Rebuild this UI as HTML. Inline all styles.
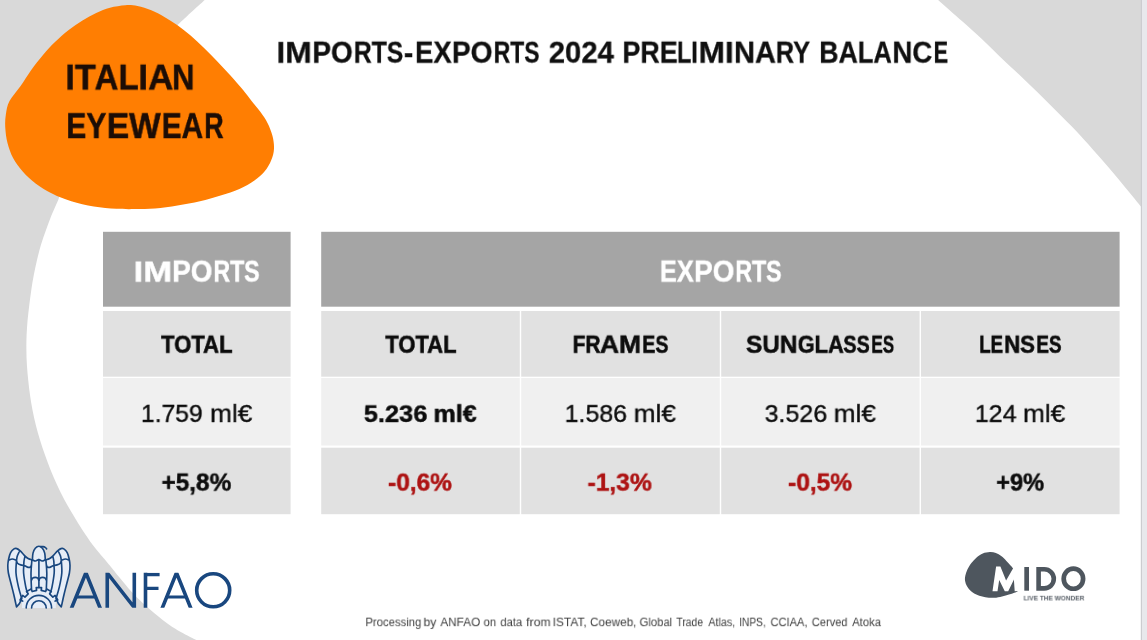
<!DOCTYPE html>
<html lang="en"><head><meta charset="utf-8"><title>Imports-Exports 2024 Preliminary Balance</title>
<style>
html,body{margin:0;padding:0;background:#fff;}
body{width:1147px;height:640px;position:relative;overflow:hidden;font-family:"Liberation Sans",sans-serif;}
.bg{position:absolute;left:0;top:0;}
.ln,.w{margin:0;padding:0;font:inherit;}
.t{position:absolute;white-space:nowrap;line-height:1;transform-origin:0 0;margin:0;padding:0;will-change:transform;}
</style></head>
<body>
<svg class="bg" width="1147" height="640" viewBox="0 0 1147 640">
<path d="M204.7 0.0 C200.3 4.1 185.8 17.1 178.1 24.6 C170.4 32.1 164.7 38.3 158.5 45.0 C152.2 51.7 146.4 58.3 140.7 65.0 C135.1 71.7 129.7 78.3 124.5 85.0 C119.3 91.7 114.4 98.3 109.7 105.0 C105.0 111.7 100.5 118.3 96.2 125.0 C92.0 131.7 87.9 138.3 84.1 145.0 C80.2 151.7 76.6 158.3 73.2 165.0 C69.7 171.7 65.9 179.2 63.4 185.0 C60.9 190.8 60.2 195.0 58.2 200.0 C56.2 205.0 53.6 210.0 51.6 215.0 C49.6 220.0 47.8 225.0 46.0 230.0 C44.2 235.0 42.4 240.0 40.9 245.0 C39.4 250.0 38.2 255.0 37.0 260.0 C35.8 265.0 34.8 270.0 33.8 275.0 C32.8 280.0 32.0 285.0 31.3 290.0 C30.6 295.0 29.9 300.0 29.3 305.0 C28.7 310.0 28.1 315.0 27.6 320.0 C27.2 325.0 26.8 330.0 26.6 335.0 C26.4 340.0 26.3 345.0 26.4 350.0 C26.4 355.0 26.6 360.0 26.9 365.0 C27.2 370.0 27.7 375.0 28.2 380.0 C28.7 385.0 29.3 390.0 30.0 395.0 C30.7 400.0 31.5 405.0 32.5 410.0 C33.5 415.0 34.5 420.0 35.8 425.0 C37.0 430.0 38.5 435.0 40.0 440.0 C41.5 445.0 43.2 450.0 45.0 455.0 C46.8 460.0 48.6 465.0 50.6 470.0 C52.6 475.0 54.8 480.0 57.1 485.0 C59.4 490.0 61.8 495.0 64.5 500.0 C67.2 505.0 70.2 510.0 73.2 515.0 C76.2 520.0 79.1 525.0 82.4 530.0 C85.7 535.0 89.3 540.3 92.8 545.0 C96.3 549.7 100.7 554.7 103.5 558.0 C106.3 561.3 106.7 561.8 109.4 565.0 C112.1 568.2 115.8 573.1 119.5 577.5 C123.2 581.9 127.5 587.4 131.3 591.6 C135.1 595.8 138.3 598.9 142.2 602.5 C146.1 606.1 150.3 609.8 154.7 613.4 C159.1 617.0 164.4 621.3 168.8 624.4 C173.2 627.5 176.7 629.6 181.3 632.2 C185.9 634.8 194.0 638.7 196.5 640.0 L0 640 L0 0 Z" fill="#d9d9d9"/>
<path d="M938.1 0.0 C942.2 3.6 955.3 15.2 962.5 21.6 C969.7 28.0 975.0 32.6 981.3 38.5 C987.5 44.4 993.8 50.8 1000.0 56.8 C1006.2 62.8 1012.5 68.4 1018.8 74.3 C1025.0 80.2 1031.2 86.1 1037.5 92.2 C1043.8 98.3 1049.8 104.5 1056.3 111.0 C1062.8 117.5 1070.3 124.9 1076.4 131.3 C1082.5 137.7 1087.3 143.2 1092.8 149.4 C1098.3 155.6 1103.8 161.9 1109.3 168.3 C1114.8 174.7 1120.3 181.5 1125.7 188.0 C1131.1 194.5 1138.9 204.0 1141.5 207.2 L1141.5 0 Z" fill="#d9d9d9"/>
<rect x="1141.5" y="0" width="5.5" height="640" fill="#e8e8ec"/>
<rect x="1140.8" y="0" width="1.2" height="640" fill="#ccccd0"/>
<path d="M125.4 5.2 C130.0 4.9 133.2 5.2 137.5 6.0 C141.8 6.8 146.8 8.5 151.3 10.3 C155.8 12.1 160.0 14.4 164.4 16.9 C168.8 19.4 173.1 22.2 177.5 25.3 C181.9 28.4 186.2 31.9 190.6 35.6 C195.0 39.4 199.4 43.6 203.8 47.8 C208.2 52.0 212.5 56.4 216.9 60.9 C221.3 65.4 225.6 70.2 230.0 75.0 C234.4 79.8 239.4 85.6 243.1 90.0 C246.8 94.4 249.1 97.8 252.0 101.5 C254.9 105.2 257.9 108.4 260.5 112.0 C263.1 115.6 265.5 119.0 267.5 123.0 C269.5 127.0 271.4 131.7 272.5 136.0 C273.6 140.3 274.2 144.8 274.0 148.8 C273.8 152.8 272.9 156.2 271.3 160.0 C269.8 163.8 267.5 167.9 264.7 171.3 C261.9 174.7 258.6 177.6 254.4 180.6 C250.2 183.6 245.0 186.6 239.4 189.1 C233.8 191.6 227.2 193.6 220.6 195.6 C214.0 197.6 207.2 199.7 200.0 201.3 C192.8 202.9 185.0 204.2 177.5 205.4 C170.0 206.6 162.1 207.8 155.0 208.4 C147.9 209.0 141.4 209.0 135.0 209.1 C128.6 209.2 123.2 209.2 116.3 208.8 C109.4 208.4 101.3 207.8 93.8 206.5 C86.3 205.2 78.2 203.4 71.3 201.3 C64.4 199.2 58.5 196.8 52.5 193.8 C46.5 190.8 40.6 187.2 35.6 183.4 C30.6 179.7 26.2 175.5 22.5 171.3 C18.8 167.1 15.6 162.8 13.1 158.1 C10.6 153.4 8.8 148.1 7.5 143.1 C6.2 138.1 5.6 132.8 5.3 128.1 C5.0 123.4 5.1 119.5 5.8 115.0 C6.5 110.5 7.0 105.8 9.5 101.0 C12.0 96.2 17.0 91.0 20.6 85.9 C24.2 80.8 27.2 75.6 30.9 70.4 C34.6 65.2 39.0 59.7 43.0 55.0 C47.0 50.3 50.7 46.2 55.0 42.1 C59.3 38.0 64.1 33.7 68.7 30.1 C73.3 26.5 77.9 23.5 82.5 20.6 C87.1 17.7 91.6 15.1 96.2 12.9 C100.8 10.8 105.1 9.0 110.0 7.7 C114.9 6.4 120.8 5.5 125.4 5.2Z" fill="#ff7e02"/>
</svg>
<svg class="bg" width="1147" height="640" viewBox="0 0 1147 640"><rect x="103.0" y="231.8" width="187.6" height="74.9" fill="#a5a5a5"/>
<rect x="103.0" y="311.0" width="187.6" height="65.7" fill="#e1e1e1"/>
<rect x="103.0" y="378.0" width="187.6" height="67.5" fill="#f0f0f0"/>
<rect x="103.0" y="447.7" width="187.6" height="66.5" fill="#e1e1e1"/>
<rect x="321.2" y="231.8" width="798.4" height="74.9" fill="#a5a5a5"/>
<rect x="321.2" y="311.0" width="198.6" height="65.7" fill="#e1e1e1"/>
<rect x="521.2" y="311.0" width="198.6" height="65.7" fill="#e1e1e1"/>
<rect x="721.2" y="311.0" width="198.4" height="65.7" fill="#e1e1e1"/>
<rect x="921.0" y="311.0" width="198.6" height="65.7" fill="#e1e1e1"/>
<rect x="321.2" y="378.0" width="198.6" height="67.5" fill="#f0f0f0"/>
<rect x="521.2" y="378.0" width="198.6" height="67.5" fill="#f0f0f0"/>
<rect x="721.2" y="378.0" width="198.4" height="67.5" fill="#f0f0f0"/>
<rect x="921.0" y="378.0" width="198.6" height="67.5" fill="#f0f0f0"/>
<rect x="321.2" y="447.7" width="198.6" height="66.5" fill="#e1e1e1"/>
<rect x="521.2" y="447.7" width="198.6" height="66.5" fill="#e1e1e1"/>
<rect x="721.2" y="447.7" width="198.4" height="66.5" fill="#e1e1e1"/>
<rect x="921.0" y="447.7" width="198.6" height="66.5" fill="#e1e1e1"/></svg>
<svg class="bg" width="1147" height="640" viewBox="0 0 1147 640"><defs><clipPath id="cl"><rect x="60" y="572.8" width="140" height="34.90000000000009"/></clipPath></defs><g fill="none" stroke="#19477f" stroke-width="3.6" stroke-linejoin="miter" stroke-miterlimit="20" clip-path="url(#cl)"><path d="M70.48 610.7 L85.9 572.8 L101.21 610.7"/><path stroke-width="3" d="M75.7 597 L96.0 597"/><path d="M107.25 610.7 L107.25 573.0 L134.3 607.5 L134.3 569.8"/><path d="M145.5 610.7 L145.5 569.8"/><path stroke-width="3.5" d="M145.5 574.55 L159.6 574.55"/><path stroke-width="3.2" d="M145.5 588.3 L158.5 588.3"/><path d="M161.19 610.7 L176.5 572.8 L191.81 610.7"/><path stroke-width="3" d="M166.4 597 L186.6 597"/></g><circle cx="213.2" cy="590.3" r="16.5" fill="none" stroke="#19477f" stroke-width="3.6"/><g fill="#e6edf7" stroke="none">
<path d="M32.40 559.90 C31.68 559.67 29.48 559.30 28.10 558.50 C26.72 557.70 25.42 556.37 24.10 555.10 C22.78 553.83 21.42 551.98 20.20 550.90 C18.98 549.82 17.83 548.93 16.80 548.60 C15.77 548.27 15.03 548.23 14.00 548.90 C12.97 549.57 11.48 550.97 10.60 552.60 C9.72 554.23 9.17 556.55 8.70 558.70 C8.23 560.85 7.85 563.12 7.80 565.50 C7.75 567.88 7.83 569.88 8.40 573.00 C8.97 576.12 10.27 580.45 11.20 584.20 C12.13 587.95 13.12 591.72 14.00 595.50 C14.88 599.28 16.08 605.00 16.50 606.90 L19.4 603.6 L21.8 598.6 L22 608 L38.9 608 L38.9 546  Z"/>
<path transform="translate(77.8,0) scale(-1,1)" d="M32.40 559.90 C31.68 559.67 29.48 559.30 28.10 558.50 C26.72 557.70 25.42 556.37 24.10 555.10 C22.78 553.83 21.42 551.98 20.20 550.90 C18.98 549.82 17.83 548.93 16.80 548.60 C15.77 548.27 15.03 548.23 14.00 548.90 C12.97 549.57 11.48 550.97 10.60 552.60 C9.72 554.23 9.17 556.55 8.70 558.70 C8.23 560.85 7.85 563.12 7.80 565.50 C7.75 567.88 7.83 569.88 8.40 573.00 C8.97 576.12 10.27 580.45 11.20 584.20 C12.13 587.95 13.12 591.72 14.00 595.50 C14.88 599.28 16.08 605.00 16.50 606.90 L19.4 603.6 L21.8 598.6 L22 608 L38.9 608 L38.9 546  Z"/>
<path d="M32.40 559.90 C32.50 558.77 32.52 555.03 33.00 553.10 C33.48 551.17 34.32 549.45 35.30 548.30 C36.28 547.15 37.72 546.20 38.90 546.20 C40.08 546.20 41.43 547.15 42.40 548.30 C43.37 549.45 44.22 551.17 44.70 553.10 C45.18 555.03 45.20 558.77 45.30 559.90 L45.4 608 L32.4 608 Z"/>
<path d="M22.64 601.06 L20.05 599.99 L22.72 595.38 L24.94 597.09 L28.19 593.84 L26.48 591.62 L31.09 588.95 L32.16 591.54 L36.60 590.35 L36.24 587.57 L41.56 587.57 L41.20 590.35 L45.64 591.54 L46.71 588.95 L51.32 591.62 L49.61 593.84 L52.86 597.09 L55.08 595.38 L57.75 599.99 L55.16 601.06 L55.16 608 L22.64 608 Z"/>
</g>
<g fill="none" stroke="#19477f" stroke-width="1.65" stroke-linecap="round" stroke-linejoin="round">
<path d="M32.40 559.90 C31.68 559.67 29.48 559.30 28.10 558.50 C26.72 557.70 25.42 556.37 24.10 555.10 C22.78 553.83 21.42 551.98 20.20 550.90 C18.98 549.82 17.83 548.93 16.80 548.60 C15.77 548.27 15.03 548.23 14.00 548.90 C12.97 549.57 11.48 550.97 10.60 552.60 C9.72 554.23 9.17 556.55 8.70 558.70 C8.23 560.85 7.85 563.12 7.80 565.50 C7.75 567.88 7.83 569.88 8.40 573.00 C8.97 576.12 10.27 580.45 11.20 584.20 C12.13 587.95 13.12 591.72 14.00 595.50 C14.88 599.28 16.08 605.00 16.50 606.90 L19.4 603.6 L21.8 598.6 M16.50 560.40 C16.42 562.50 15.67 568.55 16.00 573.00 C16.33 577.45 17.53 582.83 18.50 587.10 C19.47 591.37 21.25 596.68 21.80 598.60 M23.80 565.50 C23.77 566.75 23.27 569.40 23.60 573.00 C23.93 576.60 25.17 583.88 25.80 587.10 C26.43 590.32 27.13 591.43 27.40 592.30 M31.90 560.00 C31.75 562.17 31.07 568.07 31.00 573.00 C30.93 577.93 31.42 586.83 31.50 589.60 M8.30 560.40 C8.97 560.17 10.95 559.02 12.30 559.00 C13.65 558.98 15.72 560.08 16.40 560.30 M16.50 560.40 C16.67 560.87 16.80 562.45 17.50 563.20 C18.20 563.95 19.65 564.52 20.70 564.90 C21.75 565.28 23.28 565.40 23.80 565.50 M23.80 565.50 C24.07 565.58 24.68 565.68 25.40 566.00 C26.12 566.32 27.23 567.27 28.10 567.40 C28.97 567.53 30.03 567.28 30.60 566.80 C31.17 566.32 31.35 564.88 31.50 564.50 M19.10 552.00 C18.80 552.67 17.73 554.60 17.30 556.00 C16.87 557.40 16.63 559.67 16.50 560.40 M25.00 556.30 C24.83 557.08 24.20 559.47 24.00 561.00 C23.80 562.53 23.83 564.75 23.80 565.50 M31.60 580.20 C31.77 579.87 32.00 578.67 32.60 578.20 C33.20 577.73 34.33 577.40 35.20 577.40 C36.07 577.40 37.22 577.73 37.80 578.20 C38.38 578.67 38.55 579.87 38.70 580.20"/>
<path transform="translate(77.8,0) scale(-1,1)" d="M32.40 559.90 C31.68 559.67 29.48 559.30 28.10 558.50 C26.72 557.70 25.42 556.37 24.10 555.10 C22.78 553.83 21.42 551.98 20.20 550.90 C18.98 549.82 17.83 548.93 16.80 548.60 C15.77 548.27 15.03 548.23 14.00 548.90 C12.97 549.57 11.48 550.97 10.60 552.60 C9.72 554.23 9.17 556.55 8.70 558.70 C8.23 560.85 7.85 563.12 7.80 565.50 C7.75 567.88 7.83 569.88 8.40 573.00 C8.97 576.12 10.27 580.45 11.20 584.20 C12.13 587.95 13.12 591.72 14.00 595.50 C14.88 599.28 16.08 605.00 16.50 606.90 L19.4 603.6 L21.8 598.6 M16.50 560.40 C16.42 562.50 15.67 568.55 16.00 573.00 C16.33 577.45 17.53 582.83 18.50 587.10 C19.47 591.37 21.25 596.68 21.80 598.60 M23.80 565.50 C23.77 566.75 23.27 569.40 23.60 573.00 C23.93 576.60 25.17 583.88 25.80 587.10 C26.43 590.32 27.13 591.43 27.40 592.30 M31.90 560.00 C31.75 562.17 31.07 568.07 31.00 573.00 C30.93 577.93 31.42 586.83 31.50 589.60 M8.30 560.40 C8.97 560.17 10.95 559.02 12.30 559.00 C13.65 558.98 15.72 560.08 16.40 560.30 M16.50 560.40 C16.67 560.87 16.80 562.45 17.50 563.20 C18.20 563.95 19.65 564.52 20.70 564.90 C21.75 565.28 23.28 565.40 23.80 565.50 M23.80 565.50 C24.07 565.58 24.68 565.68 25.40 566.00 C26.12 566.32 27.23 567.27 28.10 567.40 C28.97 567.53 30.03 567.28 30.60 566.80 C31.17 566.32 31.35 564.88 31.50 564.50 M19.10 552.00 C18.80 552.67 17.73 554.60 17.30 556.00 C16.87 557.40 16.63 559.67 16.50 560.40 M25.00 556.30 C24.83 557.08 24.20 559.47 24.00 561.00 C23.80 562.53 23.83 564.75 23.80 565.50 M31.60 580.20 C31.77 579.87 32.00 578.67 32.60 578.20 C33.20 577.73 34.33 577.40 35.20 577.40 C36.07 577.40 37.22 577.73 37.80 578.20 C38.38 578.67 38.55 579.87 38.70 580.20"/>
<path d="M32.40 559.90 C32.50 558.77 32.52 555.03 33.00 553.10 C33.48 551.17 34.32 549.45 35.30 548.30 C36.28 547.15 37.72 546.20 38.90 546.20 C40.08 546.20 41.43 547.15 42.40 548.30 C43.37 549.45 44.22 551.17 44.70 553.10 C45.18 555.03 45.20 558.77 45.30 559.90"/>
<path d="M40.60 546.60 C41.00 546.60 42.23 546.47 43.00 546.60 C43.77 546.73 44.60 547.02 45.20 547.40 C45.80 547.78 46.37 548.65 46.60 548.90"/>
<path d="M32.40 559.90 C32.92 560.08 34.42 561.05 35.50 561.00 C36.58 560.95 37.82 559.60 38.90 559.60 C39.98 559.60 40.93 560.95 42.00 561.00 C43.07 561.05 44.75 560.08 45.30 559.90"/>
<path d="M38.9 559.6 L38.9 587.3"/>
<path d="M22.64 601.06 L20.05 599.99 L22.72 595.38 L24.94 597.09 L28.19 593.84 L26.48 591.62 L31.09 588.95 L32.16 591.54 L36.60 590.35 L36.24 587.57 L41.56 587.57 L41.20 590.35 L45.64 591.54 L46.71 588.95 L51.32 591.62 L49.61 593.84 L52.86 597.09 L55.08 595.38 L57.75 599.99 L55.16 601.06"/>
<path d="M26.20 608 A12.7 12.7 0 0 1 51.60 608"/>
<path d="M31.60 608 A7.3 7.3 0 0 1 46.20 608"/>
</g></svg>
<svg class="bg" width="1147" height="640" viewBox="0 0 1147 640"><path d="M1013.0 568.3 C1012.6 567.9 1011.9 566.9 1010.8 565.7 C1009.7 564.5 1008.0 562.5 1006.4 560.9 C1004.8 559.3 1003.0 557.4 1001.2 556.1 C999.5 554.8 997.8 553.7 995.9 553.0 C994.0 552.3 992.0 551.9 989.8 552.0 C987.6 552.1 985.0 552.5 982.8 553.4 C980.6 554.3 978.5 555.8 976.6 557.4 C974.7 559.0 972.9 561.1 971.4 563.1 C969.9 565.1 968.4 567.5 967.4 569.6 C966.4 571.7 965.7 573.9 965.3 575.8 C964.9 577.7 964.8 579.2 965.1 581.0 C965.4 582.8 966.0 584.5 967.0 586.3 C968.0 588.0 969.6 590.0 971.4 591.5 C973.1 593.0 975.2 594.0 977.5 595.0 C979.8 596.0 982.6 596.8 985.4 597.2 C988.2 597.7 991.4 597.8 994.2 597.7 C997.0 597.6 999.5 596.9 1002.0 596.4 C1004.5 595.9 1007.0 595.2 1009.0 594.6 C1011.0 594.0 1012.8 593.4 1014.3 592.8 C1015.8 592.2 1017.6 591.4 1018.2 591.1 L1014.7 591.3 L1013.9 579.7 Z" fill="#4e565e"/><polygon fill="#fff" points="992.5,591.3 996.1,566.5 1000.4,566.5 1006.1,580.4 1013.0,568.4 1019.3,568.4 1013.6,580.3 1008.2,591.3 1004.8,591.3 999.2,580.0 997.5,591.3"/><g fill="none" stroke="#4e565e" stroke-width="4.6"><path stroke-width="4.7" d="M1026.65 567 L1026.65 590.7"/><path d="M1038.6 569.3 L1044.25 569.3 A9.55 9.55 0 0 1 1044.25 588.4 L1038.6 588.4 Z"/><ellipse cx="1073.4" cy="578.65" rx="9.7" ry="10.1" stroke-width="4.7"/></g></svg>
<h1 class="ln"><span class="w"><span class="t" style="left:276px;top:35px;font-size:32.82px;line-height:37px;font-weight:700;color:#101010;transform:translate(0.43px,0.87px) scale(0.9700,0.8927);-webkit-text-stroke:0.30px #101010;">IM</span><span class="t" style="left:312px;top:35px;font-size:30.77px;line-height:35px;font-weight:700;color:#101010;transform:translate(0.38px,0.98px) scale(0.9082,0.9524);-webkit-text-stroke:0.30px #101010;">PO</span><span class="t" style="left:353px;top:35px;font-size:30.77px;line-height:35px;font-weight:700;color:#101010;transform:translate(0.79px,0.98px) scale(0.8041,0.9524);-webkit-text-stroke:0.30px #101010;">RTS</span><span class="t" style="left:403px;top:35px;font-size:30.77px;line-height:35px;font-weight:700;color:#101010;transform:translate(0.75px,0.98px) scale(0.9305,0.9524);-webkit-text-stroke:0.30px #101010;">-</span><span class="t" style="left:415px;top:35px;font-size:30.77px;line-height:35px;font-weight:700;color:#101010;transform:translate(0.01px,0.98px) scale(0.8935,0.9524);-webkit-text-stroke:0.30px #101010;">EX</span><span class="t" style="left:451px;top:35px;font-size:30.77px;line-height:35px;font-weight:700;color:#101010;transform:translate(0.87px,0.98px) scale(0.9155,0.9524);-webkit-text-stroke:0.30px #101010;">PO</span><span class="t" style="left:493px;top:35px;font-size:30.77px;line-height:35px;font-weight:700;color:#101010;transform:translate(0.71px,0.98px) scale(0.7442,0.9524);-webkit-text-stroke:0.30px #101010;">RTS</span></span> <span class="w"><span class="t" style="left:548px;top:35px;font-size:30.77px;line-height:35px;font-weight:700;color:#101010;transform:translate(0.77px,0.98px) scale(0.9521,0.9524);-webkit-text-stroke:0.30px #101010;">2024</span></span> <span class="w"><span class="t" style="left:622px;top:35px;font-size:30.77px;line-height:35px;font-weight:700;color:#101010;transform:translate(0.45px,0.98px) scale(0.8729,0.9524);-webkit-text-stroke:0.30px #101010;">PRE</span><span class="t" style="left:676px;top:35px;font-size:30.77px;line-height:35px;font-weight:700;color:#101010;transform:translate(0.98px,0.98px) scale(0.7620,0.9524);-webkit-text-stroke:0.30px #101010;">LI</span><span class="t" style="left:698px;top:35px;font-size:32.72px;line-height:37px;font-weight:700;color:#101010;transform:translate(0.44px,0.78px) scale(0.9700,0.8956);-webkit-text-stroke:0.30px #101010;">MI</span><span class="t" style="left:734px;top:35px;font-size:30.77px;line-height:35px;font-weight:700;color:#101010;transform:translate(0.02px,0.98px) scale(0.9414,0.9524);-webkit-text-stroke:0.30px #101010;">NA</span><span class="t" style="left:775px;top:35px;font-size:30.77px;line-height:35px;font-weight:700;color:#101010;transform:translate(0.75px,0.98px) scale(0.8267,0.9524);-webkit-text-stroke:0.30px #101010;">RY</span></span> <span class="w"><span class="t" style="left:819px;top:35px;font-size:30.77px;line-height:35px;font-weight:700;color:#101010;transform:translate(0.27px,0.98px) scale(0.8668,0.9524);-webkit-text-stroke:0.30px #101010;">BA</span><span class="t" style="left:857px;top:35px;font-size:30.77px;line-height:35px;font-weight:700;color:#101010;transform:translate(0.73px,0.98px) scale(0.8336,0.9524);-webkit-text-stroke:0.30px #101010;">LA</span><span class="t" style="left:892px;top:35px;font-size:30.77px;line-height:35px;font-weight:700;color:#101010;transform:translate(0.41px,0.98px) scale(0.8957,0.9524);-webkit-text-stroke:0.30px #101010;">NC</span><span class="t" style="left:933px;top:35px;font-size:30.77px;line-height:35px;font-weight:700;color:#101010;transform:translate(0.70px,0.98px) scale(0.7019,0.9524);-webkit-text-stroke:0.30px #101010;">E</span></span></h1>
<div class="ln"><span class="w"><span class="t" style="left:65px;top:58px;font-size:36.54px;line-height:41px;font-weight:700;color:#1c0d06;transform:translate(0.38px,0.07px) scale(0.9335,0.9524);-webkit-text-stroke:0.50px #1c0d06;">IT</span><span class="t" style="left:94px;top:58px;font-size:36.54px;line-height:41px;font-weight:700;color:#1c0d06;transform:translate(0.57px,0.07px) scale(0.9037,0.9524);-webkit-text-stroke:0.50px #1c0d06;">AL</span><span class="t" style="left:138px;top:58px;font-size:36.54px;line-height:41px;font-weight:700;color:#1c0d06;transform:translate(0.34px,0.07px) scale(0.9533,0.9524);-webkit-text-stroke:0.50px #1c0d06;">IA</span><span class="t" style="left:172px;top:58px;font-size:36.54px;line-height:41px;font-weight:700;color:#1c0d06;transform:translate(0.08px,0.07px) scale(0.8488,0.9524);-webkit-text-stroke:0.50px #1c0d06;">N</span></span> <span class="w"><span class="t" style="left:66px;top:106px;font-size:36.54px;line-height:41px;font-weight:700;color:#1c0d06;transform:translate(0.24px,0.57px) scale(0.8254,0.9524);-webkit-text-stroke:0.50px #1c0d06;">EY</span><span class="t" style="left:106px;top:106px;font-size:36.54px;line-height:41px;font-weight:700;color:#1c0d06;transform:translate(0.72px,0.57px) scale(0.9193,0.9524);-webkit-text-stroke:0.50px #1c0d06;">EW</span><span class="t" style="left:161px;top:106px;font-size:36.54px;line-height:41px;font-weight:700;color:#1c0d06;transform:translate(0.76px,0.57px) scale(0.8157,0.9524);-webkit-text-stroke:0.50px #1c0d06;">EA</span><span class="t" style="left:204px;top:106px;font-size:36.54px;line-height:41px;font-weight:700;color:#1c0d06;transform:translate(0.26px,0.57px) scale(0.7327,0.9524);-webkit-text-stroke:0.50px #1c0d06;">R</span></span></div>
<section class="ln">
<div class="ln"><span class="w"><span class="t" style="left:133px;top:254px;font-size:35.66px;line-height:40px;font-weight:700;color:#fff;transform:translate(0.55px,0.95px) scale(0.9700,0.8328);-webkit-text-stroke:0.50px #fff;">IM</span><span class="t" style="left:172px;top:254px;font-size:31.19px;line-height:35px;font-weight:700;color:#fff;transform:translate(0.19px,0.93px) scale(0.8935,0.9524);-webkit-text-stroke:0.50px #fff;">PO</span><span class="t" style="left:213px;top:254px;font-size:31.19px;line-height:35px;font-weight:700;color:#fff;transform:translate(0.40px,0.93px) scale(0.7409,0.9524);-webkit-text-stroke:0.50px #fff;">RTS</span></span></div>
<div class="ln"><span class="w"><span class="t" style="left:161px;top:329px;font-size:26.14px;line-height:30px;font-weight:700;color:#0d0d0d;transform:translate(0.08px,0.94px) scale(0.8439,0.9524);-webkit-text-stroke:0.60px #0d0d0d;">TOTAL</span></span></div>
<div class="ln"><span class="w"><span class="t" style="left:140px;top:400px;font-size:25.43px;line-height:28px;font-weight:400;color:#0d0d0d;transform:translate(0.95px,0.19px) scale(0.9700,0.9439);-webkit-text-stroke:0.40px #0d0d0d;">1.759</span></span> <span class="w"><span class="t" style="left:210px;top:400px;font-size:26.95px;line-height:30px;font-weight:400;color:#0d0d0d;transform:translate(0.10px,0.53px) scale(0.9700,0.8905);-webkit-text-stroke:0.40px #0d0d0d;">ml€</span></span></div>
<div class="ln"><span class="w"><span class="t" style="left:161px;top:468px;font-size:25.31px;line-height:28px;font-weight:700;color:#0d0d0d;transform:translate(0.53px,0.75px) scale(0.9625,0.9524);-webkit-text-stroke:0.50px #0d0d0d;">+5,8%</span></span></div>
</section>
<section class="ln">
<div class="ln"><span class="w"><span class="t" style="left:659px;top:254px;font-size:31.19px;line-height:35px;font-weight:700;color:#fff;transform:translate(0.84px,0.93px) scale(0.8176,0.9524);-webkit-text-stroke:0.50px #fff;">EX</span><span class="t" style="left:694px;top:254px;font-size:31.19px;line-height:35px;font-weight:700;color:#fff;transform:translate(0.08px,0.93px) scale(0.8959,0.9524);-webkit-text-stroke:0.50px #fff;">PO</span><span class="t" style="left:735px;top:254px;font-size:31.19px;line-height:35px;font-weight:700;color:#fff;transform:translate(0.29px,0.93px) scale(0.7426,0.9524);-webkit-text-stroke:0.50px #fff;">RTS</span></span></div>
<div class="ln"><span class="w"><span class="t" style="left:385px;top:329px;font-size:26.14px;line-height:30px;font-weight:700;color:#0d0d0d;transform:translate(0.28px,0.94px) scale(0.8415,0.9524);-webkit-text-stroke:0.60px #0d0d0d;">TOTAL</span></span></div>
<div class="ln"><span class="w"><span class="t" style="left:572px;top:329px;font-size:26.14px;line-height:30px;font-weight:700;color:#0d0d0d;transform:translate(0.75px,0.94px) scale(0.7957,0.9524);-webkit-text-stroke:0.60px #0d0d0d;">FR</span><span class="t" style="left:599px;top:330px;font-size:27.40px;line-height:31px;font-weight:700;color:#0d0d0d;transform:translate(0.84px,0.08px) scale(0.9700,0.9089);-webkit-text-stroke:0.60px #0d0d0d;">AM</span><span class="t" style="left:642px;top:329px;font-size:26.14px;line-height:30px;font-weight:700;color:#0d0d0d;transform:translate(0.33px,0.94px) scale(0.7463,0.9524);-webkit-text-stroke:0.60px #0d0d0d;">ES</span></span></div>
<div class="ln"><span class="w"><span class="t" style="left:745px;top:329px;font-size:26.14px;line-height:30px;font-weight:700;color:#0d0d0d;transform:translate(0.97px,0.94px) scale(0.9320,0.9524);-webkit-text-stroke:0.60px #0d0d0d;">SUN</span><span class="t" style="left:797px;top:329px;font-size:26.14px;line-height:30px;font-weight:700;color:#0d0d0d;transform:translate(0.73px,0.94px) scale(0.8342,0.9524);-webkit-text-stroke:0.60px #0d0d0d;">GLA</span><span class="t" style="left:843px;top:329px;font-size:26.14px;line-height:30px;font-weight:700;color:#0d0d0d;transform:translate(0.30px,0.94px) scale(0.7589,0.9524);-webkit-text-stroke:0.60px #0d0d0d;">SS</span><span class="t" style="left:871px;top:329px;font-size:26.14px;line-height:30px;font-weight:700;color:#0d0d0d;transform:translate(0.40px,0.94px) scale(0.6499,0.9524);-webkit-text-stroke:0.60px #0d0d0d;">ES</span></span></div>
<div class="ln"><span class="w"><span class="t" style="left:979px;top:329px;font-size:26.14px;line-height:30px;font-weight:700;color:#0d0d0d;transform:translate(0.29px,0.94px) scale(0.7096,0.9524);-webkit-text-stroke:0.60px #0d0d0d;">LE</span><span class="t" style="left:1004px;top:329px;font-size:26.14px;line-height:30px;font-weight:700;color:#0d0d0d;transform:translate(0.26px,0.94px) scale(0.8453,0.9524);-webkit-text-stroke:0.60px #0d0d0d;">NS</span><span class="t" style="left:1036px;top:329px;font-size:26.14px;line-height:30px;font-weight:700;color:#0d0d0d;transform:translate(0.38px,0.94px) scale(0.7183,0.9524);-webkit-text-stroke:0.60px #0d0d0d;">ES</span></span></div>
<div class="ln"><span class="w"><span class="t" style="left:363px;top:399px;font-size:26.16px;line-height:30px;font-weight:700;color:#0d0d0d;transform:translate(0.84px,0.89px) scale(0.9700,0.9173);-webkit-text-stroke:0.50px #0d0d0d;">5.236</span></span> <span class="w"><span class="t" style="left:433px;top:400px;font-size:25.84px;line-height:28px;font-weight:700;color:#0d0d0d;transform:translate(0.47px,0.53px) scale(0.9700,0.9289);-webkit-text-stroke:0.50px #0d0d0d;">ml€</span></span></div>
<div class="ln"><span class="w"><span class="t" style="left:564px;top:400px;font-size:25.76px;line-height:28px;font-weight:400;color:#0d0d0d;transform:translate(0.63px,0.47px) scale(0.9700,0.9316);-webkit-text-stroke:0.40px #0d0d0d;">1.586</span></span> <span class="w"><span class="t" style="left:633px;top:400px;font-size:27.02px;line-height:30px;font-weight:400;color:#0d0d0d;transform:translate(0.70px,0.58px) scale(0.9700,0.8882);-webkit-text-stroke:0.40px #0d0d0d;">ml€</span></span></div>
<div class="ln"><span class="w"><span class="t" style="left:764px;top:400px;font-size:25.77px;line-height:28px;font-weight:400;color:#0d0d0d;transform:translate(0.60px,0.48px) scale(0.9700,0.9312);-webkit-text-stroke:0.40px #0d0d0d;">3.526</span></span> <span class="w"><span class="t" style="left:833px;top:400px;font-size:27.02px;line-height:30px;font-weight:400;color:#0d0d0d;transform:translate(0.70px,0.58px) scale(0.9700,0.8882);-webkit-text-stroke:0.40px #0d0d0d;">ml€</span></span></div>
<div class="ln"><span class="w"><span class="t" style="left:974px;top:400px;font-size:25.84px;line-height:28px;font-weight:400;color:#0d0d0d;transform:translate(0.82px,0.54px) scale(0.9700,0.9288);-webkit-text-stroke:0.40px #0d0d0d;">124</span></span> <span class="w"><span class="t" style="left:1022px;top:400px;font-size:27.02px;line-height:30px;font-weight:400;color:#0d0d0d;transform:translate(1.00px,0.58px) scale(0.9700,0.8882);-webkit-text-stroke:0.40px #0d0d0d;">ml€</span></span></div>
<div class="ln"><span class="w"><span class="t" style="left:388px;top:468px;font-size:25.31px;line-height:28px;font-weight:700;color:#ad1313;transform:translate(0.02px,0.75px) scale(0.9670,0.9524);-webkit-text-stroke:0.50px #ad1313;">-0,6%</span></span></div>
<div class="ln"><span class="w"><span class="t" style="left:587px;top:468px;font-size:25.39px;line-height:28px;font-weight:700;color:#ad1313;transform:translate(0.51px,0.82px) scale(0.9700,0.9492);-webkit-text-stroke:0.50px #ad1313;">-1,3%</span></span></div>
<div class="ln"><span class="w"><span class="t" style="left:788px;top:468px;font-size:25.31px;line-height:28px;font-weight:700;color:#ad1313;transform:translate(0.02px,0.75px) scale(0.9700,0.9523);-webkit-text-stroke:0.50px #ad1313;">-0,5%</span></span></div>
<div class="ln"><span class="w"><span class="t" style="left:996px;top:468px;font-size:25.31px;line-height:28px;font-weight:700;color:#0d0d0d;transform:translate(0.26px,0.75px) scale(0.9331,0.9524);-webkit-text-stroke:0.50px #0d0d0d;">+9%</span></span></div>
</section>
<footer class="ln"><span class="w"><span class="t" style="left:365px;top:615px;font-size:12.50px;line-height:14px;font-weight:400;color:#404040;transform:translate(0.40px,0.72px) scale(0.9020,0.9524);">Processing</span></span> <span class="w"><span class="t" style="left:423px;top:615px;font-size:12.60px;line-height:14px;font-weight:400;color:#404040;transform:translate(0.51px,0.81px) scale(0.9700,0.9444);">by</span></span> <span class="w"><span class="t" style="left:440px;top:615px;font-size:12.50px;line-height:14px;font-weight:400;color:#404040;transform:translate(0.40px,0.72px) scale(0.9393,0.9524);">ANFAO</span></span> <span class="w"><span class="t" style="left:483px;top:615px;font-size:12.50px;line-height:14px;font-weight:400;color:#404040;transform:translate(0.55px,0.72px) scale(0.8999,0.9524);">on</span></span> <span class="w"><span class="t" style="left:500px;top:615px;font-size:12.50px;line-height:14px;font-weight:400;color:#404040;transform:translate(0.35px,0.72px) scale(0.8906,0.9524);">data</span></span> <span class="w"><span class="t" style="left:526px;top:615px;font-size:12.62px;line-height:14px;font-weight:400;color:#404040;transform:translate(0.12px,0.83px) scale(0.9700,0.9431);">from</span></span> <span class="w"><span class="t" style="left:552px;top:615px;font-size:12.50px;line-height:14px;font-weight:400;color:#404040;transform:translate(0.63px,0.72px) scale(0.9544,0.9524);">ISTAT,</span></span> <span class="w"><span class="t" style="left:590px;top:615px;font-size:12.50px;line-height:14px;font-weight:400;color:#404040;transform:translate(0.01px,0.72px) scale(0.9411,0.9524);">Coeweb,</span></span> <span class="w"><span class="t" style="left:639px;top:615px;font-size:12.50px;line-height:14px;font-weight:400;color:#404040;transform:translate(0.54px,0.72px) scale(0.9027,0.9524);">Global</span></span> <span class="w"><span class="t" style="left:676px;top:615px;font-size:12.50px;line-height:14px;font-weight:400;color:#404040;transform:translate(0.29px,0.72px) scale(0.8322,0.9524);">Trade</span></span> <span class="w"><span class="t" style="left:708px;top:615px;font-size:12.50px;line-height:14px;font-weight:400;color:#404040;transform:translate(0.40px,0.72px) scale(0.8583,0.9524);">Atlas,</span></span> <span class="w"><span class="t" style="left:739px;top:615px;font-size:12.50px;line-height:14px;font-weight:400;color:#404040;transform:translate(0.08px,0.72px) scale(0.8184,0.9524);">INPS,</span></span> <span class="w"><span class="t" style="left:770px;top:615px;font-size:12.50px;line-height:14px;font-weight:400;color:#404040;transform:translate(0.54px,0.72px) scale(0.8892,0.9524);">CCIAA,</span></span> <span class="w"><span class="t" style="left:811px;top:615px;font-size:12.50px;line-height:14px;font-weight:400;color:#404040;transform:translate(0.75px,0.72px) scale(0.8878,0.9524);">Cerved</span></span> <span class="w"><span class="t" style="left:852px;top:615px;font-size:12.50px;line-height:14px;font-weight:400;color:#404040;transform:translate(0.20px,0.72px) scale(0.9021,0.9524);">Atoka</span></span></footer>
<div class="ln"><span class="w"><span class="t" style="left:1023px;top:594px;font-size:6.71px;line-height:7px;font-weight:700;color:#5b626a;transform:translate(0.58px,0.86px) scale(0.9700,0.9236);">LIVE THE WONDER</span></span></div>
</body></html>
